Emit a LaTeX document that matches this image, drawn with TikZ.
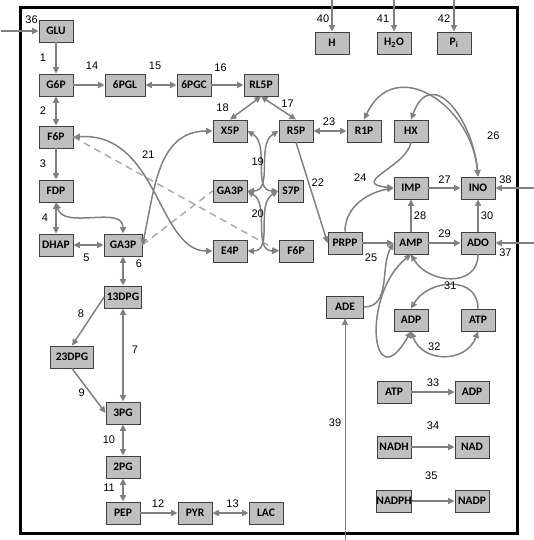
\documentclass[tikz,border=0pt]{standalone}
\usepackage{fontspec}
\newfontfamily\boxfont{Carlito}
\newfontfamily\numfont{Liberation Sans}
\usetikzlibrary{arrows.meta, positioning}
\definecolor{boxfill}{RGB}{191,191,191}
\definecolor{boxline}{RGB}{64,64,64}
\definecolor{flux}{RGB}{128,128,128}
\definecolor{link}{RGB}{170,170,170}

\begin{document}
\begin{tikzpicture}[
	x=1pt, y=1pt,
	every node/.style={font=\numfont\fontsize{11}{13}\selectfont},
	met/.style={
		rectangle, draw=boxline, fill=boxfill, line width=0.8pt, on grid,
		minimum width=34pt, minimum height=22pt, inner sep=0pt,
		font=\boxfont\bfseries\fontsize{11.5}{13}\selectfont
	},
	num/.style={inner sep=0pt, on grid},
	arrow/.style={-{Triangle[length=6.5pt,width=6pt]}, draw=flux, line width=1.5pt},
	both/.style={{Triangle[length=6.5pt,width=6pt]}-{Triangle[length=6.5pt,width=6pt]}, draw=flux, line width=1.5pt},
	same/.style={draw=link, line width=1.5pt, dash pattern=on 7pt off 5pt}
	]
	\useasboundingbox (0,0) rectangle (534,-540);
	\draw[line width=3pt] (20,-8) rectangle (517,-533);
	
	% Glycolysis
	\node[met] (glu) at (56,-31) {GLU};
	\node[met, below=54pt of glu] (g6p) {G6P};
	\node[met, right=69pt of g6p, minimum width=40pt] (pgl) {6PGL};
	\node[met, right=69pt of pgl] (pgc) {6PGC};
	\node[met, right=67pt of pgc] (rl5p) {RL5P};
	\node[met, below=52pt of g6p] (f6p) {F6P};
	\node[met, below=54pt of f6p] (fdp) {FDP};
	\node[met, below=54pt of fdp] (dhap) {DHAP};
	\node[met, right=67pt of dhap, minimum width=38pt] (ga3p) {GA3P};
	\node[met, below=52pt of ga3p, minimum width=37pt] (dpg13) {13DPG};
	\node[met, below left=60pt and 51pt of dpg13, minimum width=43pt] (dpg23) {23DPG};
	\node[met, below=116pt of dpg13] (pg3) {3PG};
	\node[met, below=54pt of pg3] (pg2) {2PG};
	\node[met, below=46pt of pg2] (pep) {PEP};
	\node[met, right=72pt of pep] (pyr) {PYR};
	\node[met, right=71pt of pyr] (lac) {LAC};
	
	% Pentose phosphate
	\node[met, below left=46pt and 31pt of rl5p] (x5p) {X5P};
	\node[met, below=60pt of x5p] (ga3pb) {GA3P};
	\node[met, below=60pt of ga3pb] (e4p) {E4P};
	\node[met, right=66pt of x5p] (r5p) {R5P};
	\node[met, below left=60pt and 5pt of r5p, minimum width=25pt] (s7p) {S7P};
	\node[met, right=66pt of e4p] (f6pb) {F6P};
	\node[met, right=68pt of r5p] (r1p) {R1P};
	\node[met, right=47pt of r1p] (hx) {HX};
	
	% Purines
	\node[met, below=57pt of hx] (imp) {IMP};
	\node[met, right=67pt of imp] (ino) {INO};
	\node[met, below=55pt of imp] (amp) {AMP};
	\node[met, left=66pt of amp] (prpp) {PRPP};
	\node[met, right=67pt of amp] (ado) {ADO};
	\node[met, below=64pt of prpp, minimum width=37pt] (ade) {ADE};
	\node[met, below=77pt of amp] (adp) {ADP};
	\node[met, right=67pt of adp] (atp) {ATP};
	
	% Cofactors
	\node[met, below left=72pt and 17pt of adp] (atpc) {ATP};
	\node[met, right=78pt of atpc] (adpc) {ADP};
	\node[met, below=55pt of atpc] (nadh) {NADH};
	\node[met, right=78pt of nadh] (nad) {NAD};
	\node[met, below=54pt of nadh] (nadph) {NADPH};
	\node[met, right=78pt of nadph] (nadp) {NADP};
	\node[met, above right=88pt and 36pt of r5p] (h) {H};
	\node[met, right=62pt of h] (water) {H\textsubscript{2}O};
	\node[met, right=60pt of water] (pi) {P\textsubscript{i}};
	
	% Free ends
	\coordinate (in36) at ([xshift=-38pt]glu.west);
	\coordinate (in37) at ([xshift=40pt]ado.east);
	\coordinate (in38) at ([xshift=40pt]ino.east);
	\coordinate (in39) at ([yshift=-223pt]ade.south);
	\coordinate (in40) at ([yshift=33pt]h.north);
	\coordinate (in41) at ([yshift=33pt]water.north);
	\coordinate (in42) at ([yshift=33pt]pi.north);
	
	% Same metabolite
	\draw[same] (f6p.east) -- (f6pb.west);
	\draw[same] (ga3p.east) -- (ga3pb.west);
	
	% Glycolysis arrows
	\draw[arrow] (glu) -- node[num, xshift=-13pt] {1} (g6p);
	\draw[arrow] (g6p) -- node[num, xshift=3pt, yshift=19pt] {14} (pgl);
	\draw[both] (pgl) -- node[num, xshift=-6pt, yshift=19pt] {15} (pgc);
	\draw[arrow] (pgc) -- node[num, xshift=-7pt, yshift=17pt] {16} (rl5p);
	\draw[both] (g6p) -- node[num, xshift=-13pt] {2} (f6p);
	\draw[arrow] (f6p) -- node[num, xshift=-13pt] {3} (fdp);
	\draw[both] (fdp) -- node[num, xshift=-11pt] {4} (dhap);
	\draw[both] (fdp.south) to[out=-75, in=90] (ga3p.north);
	\draw[both] (dhap) -- node[num, xshift=-2pt, yshift=-13pt] {5} (ga3p);
	\draw[both] (ga3p) -- node[num, xshift=16pt, yshift=7pt] {6} (dpg13);
	\draw[both] (dpg13) -- node[num, xshift=12pt, yshift=5pt] {7} (pg3);
	\draw[arrow] (dpg13.west) -- node[num, xshift=-7pt, yshift=8pt] {8} (dpg23.north);
	\draw[arrow] (dpg23.south) -- node[num, xshift=-7pt, yshift=-2pt] {9} (pg3.west);
	\draw[both] (pg3) -- node[num, xshift=-14pt] {10} (pg2);
	\draw[both] (pg2) -- node[num, xshift=-14pt, yshift=2pt] {11} (pep);
	\draw[arrow] (pep) -- node[num, xshift=-1pt, yshift=9pt] {12} (pyr);
	\draw[both] (pyr) -- node[num, xshift=2pt, yshift=9pt] {13} (lac);
	
	% Pentose phosphate arrows
	\draw[both] (rl5p.south) -- node[num, xshift=-23pt] {18} (x5p.north);
	\draw[both] (rl5p.south) -- node[num, xshift=9pt, yshift=4pt] {17} (r5p.north);
	\draw[both] (r5p) -- node[num, xshift=-1pt, yshift=9pt] {23} (r1p);
	\draw[arrow] (r5p.south) -- node[num, xshift=6pt, yshift=10pt] {22} (prpp.west);
	\draw[both] (f6p.east) .. controls +(85,5) and +(-55,0) .. (e4p.west);
	\draw[both] (ga3p.east) .. controls +(12,55) and +(-55,0) .. (x5p.west);
	\node[num, below left=20pt and 58pt of x5p.west] {21};
	\draw[both] (x5p.east) to[out=-30, in=180] (s7p.west);
	\draw[both] (r5p.west) to[out=210, in=0] (ga3pb.east);
	\node[num, below right=27pt and 4pt of x5p.east] {19};
	\draw[both] (ga3pb.east) to[out=-30, in=180] (f6pb.west);
	\draw[both] (s7p.west) to[out=210, in=0] (e4p.east);
	\node[num, above right=33pt and 4pt of e4p.east] {20};
	
	% Purine arrows
	\draw[arrow] (hx.south) .. controls +(-5,-25) and +(-45,5) .. (imp.west);
	\draw[arrow] (prpp.north) to[out=90, in=190] (imp.west);
	\node[num, above left=6pt and 27pt of imp.west] {24};
	\draw[arrow] (prpp) -- node[num, xshift=-7pt, yshift=-15pt] {25} (amp);
	\draw[arrow] (ade.east) to[out=0, in=240] (amp.west);
	\draw[both] (ino.north) to[out=95, in=65, looseness=1.45] (r1p.north);
	\draw[both] (ino.north) to[out=95, in=70, looseness=1.7] (hx.north);
	\node[num, above right=37pt and 9pt of ino.north] {26};
	\draw[arrow] (imp) -- node[num, yshift=8pt] {27} (ino);
	\draw[arrow] (amp) -- node[num, xshift=9pt] {28} (imp);
	\draw[arrow] (amp) -- node[num, yshift=9pt] {29} (ado);
	\draw[arrow] (ado) -- node[num, xshift=9pt] {30} (ino);
	\draw[arrow] (ado.south) to[out=-90, in=-60, looseness=1.3] (amp.south);
	\draw[arrow] (atp.north) to[out=90, in=60, looseness=1.3] (adp.north);
	\node[num, above right=19pt and 33pt of adp.north] {31};
	\draw[both] (adp.south) to[out=-70, in=-110, looseness=1.3] (atp.south);
	\draw[both] (amp.south) .. controls +(-50,-40) and +(-40,-70) .. (adp.south);
	\node[num, below right=11pt and 17pt of adp.south] {32};
	
	% Cofactor arrows
	\draw[arrow] (atpc) -- node[num, yshift=9pt] {33} (adpc);
	\draw[arrow] (nadh) -- node[num, yshift=21pt] {34} (nad);
	\draw[arrow] (nadph) -- node[num, xshift=-2pt, yshift=25pt] {35} (nadp);
	
	% Exchange arrows
	\draw[arrow] (in36) -- node[num, xshift=12pt, yshift=11pt] {36} (glu);
	\draw[arrow] (in37) -- node[num, xshift=-10pt, yshift=-10pt] {37} (ado);
	\draw[arrow] (in38) -- node[num, xshift=-10pt, yshift=8pt] {38} (ino);
	\draw[arrow, line width=1pt] (in39) -- node[num, xshift=-10pt, yshift=7pt] {39} (ade);
	\draw[arrow] (in40) -- node[num, xshift=-9pt, yshift=-4pt] {40} (h);
	\draw[arrow] (in41) -- node[num, xshift=-11pt, yshift=-4pt] {41} (water);
	\draw[arrow] (in42) -- node[num, xshift=-10pt, yshift=-4pt] {42} (pi);
\end{tikzpicture}
\end{document}
